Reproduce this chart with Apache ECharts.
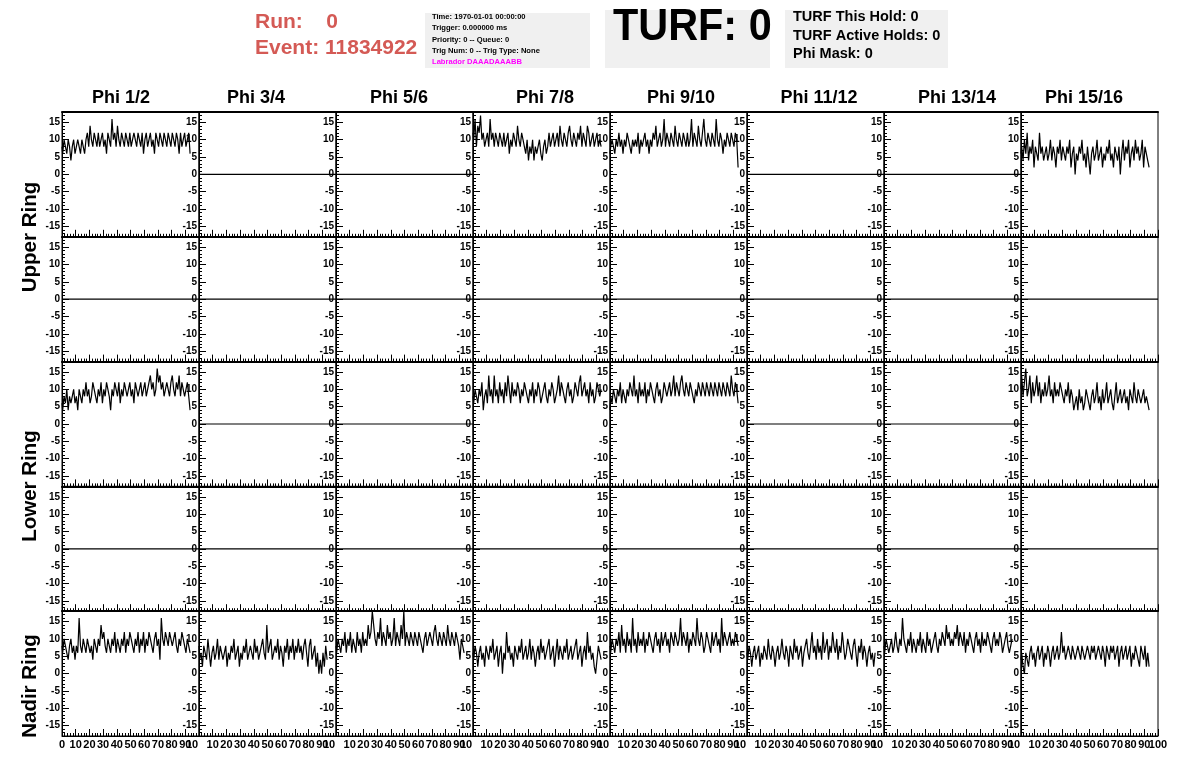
<!DOCTYPE html>
<html><head><meta charset="utf-8">
<script src="https://cdn.jsdelivr.net/npm/echarts@6/dist/echarts.min.js"></script>
<style>html,body{margin:0;padding:0;background:#fff}#c{width:1196px;height:772px}</style>
</head><body><div id="c"></div>
<script>
const colLabels = ['Phi 1/2','Phi 3/4','Phi 5/6','Phi 7/8','Phi 9/10','Phi 11/12','Phi 13/14','Phi 15/16'];
const ringLabels = ['Upper Ring','Lower Ring','Nadir Ring'];
const xTicksFirst = [0,10,20,30,40,50,60,70,80,90];
const xTicksInner = [10,20,30,40,50,60,70,80,90];
const xEndTick = [100];
const yTicks = [-15,-10,-5,0,5,10,15];
const yMinor = [-17,-16,-14,-13,-12,-11,-9,-8,-7,-6,-4,-3,-2,-1,1,2,3,4,6,7,8,9,11,12,13,14,16,17];
const runText = 'Run:    0';
const eventText = 'Event: 11834922';
const infoLines = ['Time: 1970-01-01 00:00:00','Trigger: 0.000000 ms','Priority: 0 -- Queue: 0','Trig Num: 0 -- Trig Type: None'];
const labradorText = 'Labrador DAAADAAABB';
const turfText = 'TURF: 0';
const turfLines = ['TURF This Hold: 0','TURF Active Holds: 0','Phi Mask: 0'];

// waveform samples (x = sample index 0..94)
const U1 = [8,6,10,8,6,10,8,4,8,10,6,8,10,8,6,10,8,6,10, 12,8,14,10,8,12,10,8,12,8,10,12,8,10,6,12,10,8,16, 10,12,8,14,10,8,12,10,8,12,10,8,12,8,10,12,10,8,12, 10,8,12,6,10,12,8,10,12,8,10,6,12,10,8,12,10,8,12, 10,8,12,10,8,12,10,8,12,10,6,12,8,10,12,8,10,12,6];
const U7 = [12,10,16,8,14,12,17,10,12,8,10,12,8,16,10,12,8,12,10, 8,12,10,8,12,8,10,12,6,10,8,12,10,8,14,10,8,12,10, 8,6,10,4,8,6,10,4,8,6,8,10,6,4,8,10,6,8,12, 8,10,12,8,10,12,8,14,10,8,12,10,8,12,14,10,8,12,10, 8,12,10,14,8,12,10,8,14,12,8,10,12,8,10,12,8,10,8];
const U9 = [6,8,10,8,6,10,8,12,8,10,6,10,8,12,10,8,6,10,8, 10,8,12,6,10,8,10,12,8,10,6,10,8,12,10,14,8,10,12, 8,10,16,8,12,10,8,12,10,8,14,10,8,12,10,8,12,10,8, 12,8,10,16,8,12,10,8,14,10,8,12,16,10,8,12,10,8,12, 10,8,16,10,8,12,10,6,10,8,12,10,8,12,10,8,12,10,2];
const U15 = [6,8,4,10,6,12,4,8,6,10,2,8,6,4,12,6,8,4,6, 8,4,6,10,4,8,6,2,8,6,10,4,8,6,4,8,6,10,2, 6,8,0,6,4,8,6,10,4,6,2,8,4,0,6,8,4,6,10, 4,6,8,2,6,4,8,6,10,4,6,2,8,6,4,8,0,6,10, 4,8,6,10,2,6,8,4,10,6,8,4,6,10,2,8,6,4,2];
const L1 = [6,4,8,6,10,4,8,6,8,10,6,8,4,10,8,6,10,8,12, 8,10,6,8,12,10,8,6,10,8,12,6,10,8,12,10,8,4,10, 8,12,10,8,12,6,10,8,12,10,8,10,12,8,10,6,12,10,8, 10,12,8,10,12,8,10,12,14,10,12,8,10,16,12,14,10,12,8, 10,12,10,8,12,14,10,8,12,10,14,8,12,10,8,10,12,8,4];
const L7 = [8,6,10,8,6,10,8,12,4,8,10,6,14,8,10,6,14,8,10, 6,12,8,10,6,12,8,14,10,6,12,8,10,8,12,10,6,10,8, 12,10,8,6,10,8,12,6,10,8,12,10,6,8,10,12,8,6,10, 8,12,10,6,8,10,14,8,12,10,8,6,10,12,8,10,6,8,12, 10,8,12,14,8,10,12,8,10,6,12,8,10,6,8,12,10,8,10];
const L9 = [4,8,6,10,8,6,10,8,12,6,10,8,6,10,8,12,10,8,14, 8,10,6,12,8,10,8,12,6,10,8,12,10,8,6,10,12,8,10, 6,8,12,10,8,10,12,8,10,14,8,12,10,8,12,14,10,8,12, 10,8,12,10,8,6,10,8,12,10,8,12,10,8,12,10,8,12,10, 8,12,10,8,12,10,8,12,10,8,12,10,8,14,10,8,12,10,6];
const L15 = [10,14,8,12,16,8,10,14,6,12,8,10,14,8,12,6,10,8,12, 8,10,14,8,10,6,12,8,10,8,12,10,8,6,10,8,12,6,10, 8,4,6,8,4,10,6,8,4,6,10,8,6,4,8,10,6,8,12, 6,8,4,10,6,8,12,6,8,10,6,4,8,12,6,8,10,6,8, 10,6,8,4,10,8,6,12,8,6,10,8,6,8,10,6,8,6,4];
const N1 = [8,6,10,8,6,4,8,10,6,8,4,8,6,16,8,6,10,8,6, 10,8,6,8,4,10,8,6,10,8,14,10,12,8,6,10,8,6,10, 8,12,6,10,8,6,10,8,12,6,10,8,12,10,8,6,10,8,12, 6,10,8,12,6,10,8,12,10,8,6,10,12,8,10,4,16,10,8, 12,10,8,12,10,8,10,12,8,6,10,8,12,10,8,6,10,8,6];
const N3 = [8,4,6,2,8,6,4,10,6,2,6,8,4,6,10,4,8,6,4, 6,8,2,6,4,8,6,10,4,6,8,2,6,4,8,6,10,4,6, 8,6,4,10,6,8,4,6,8,10,6,4,14,6,8,10,4,6,8, 6,10,4,8,6,2,8,6,10,4,8,6,10,4,8,6,10,6,8, 4,8,10,6,2,8,10,4,6,8,2,6,0,4,0,6,2,8,4];
const N5 = [8,6,10,8,6,10,8,12,6,10,8,12,6,10,8,6,12,8,10, 6,12,8,10,8,14,10,12,18,14,10,8,12,10,16,8,12,10,8, 14,10,12,8,10,16,8,12,10,8,14,10,18,8,12,10,8,12,10, 8,12,10,8,12,10,8,6,10,12,8,10,12,10,8,12,14,10,8, 12,10,8,12,10,8,14,10,8,12,10,8,12,10,8,4,10,8,6];
const N7 = [6,4,8,6,2,6,8,4,6,2,8,6,4,8,6,10,4,6,8, 2,6,8,0,6,4,12,6,8,4,6,2,8,6,4,8,6,10,4, 6,8,4,6,10,4,8,6,2,6,8,4,10,6,8,4,6,8,10, 4,6,8,2,6,10,4,8,6,4,8,6,10,4,6,8,4,6,8, 10,4,6,8,2,6,8,4,12,6,8,4,6,2,0,4,8,6,4];
const N9 = [8,6,10,8,6,10,8,12,6,14,8,10,6,12,8,10,6,16,8, 10,6,12,8,10,8,12,6,10,8,12,10,8,6,10,12,8,10,6, 12,8,10,12,8,10,6,12,10,8,12,10,8,10,16,8,12,10,8, 12,6,10,8,12,10,8,16,10,8,12,10,6,8,12,10,8,6,12, 8,10,12,8,10,6,16,8,12,10,8,10,12,8,10,8,12,10,8];
const N11 = [6,4,8,6,2,6,8,4,6,8,2,6,4,8,6,4,10,6,4, 8,6,2,6,8,4,6,10,6,4,8,6,2,8,6,4,10,6,8, 4,6,8,2,6,8,10,6,4,8,12,6,8,4,10,6,8,4,12, 6,8,10,4,8,6,12,8,6,10,4,8,6,12,8,4,6,10,8, 6,4,8,10,6,2,8,6,10,4,8,6,2,6,8,4,6,2,6];
const N13 = [8,6,10,8,6,8,10,6,8,12,8,6,10,8,16,10,8,6,10, 8,12,6,10,8,6,10,8,12,6,10,8,6,12,8,10,6,8,10, 12,8,6,10,8,12,10,8,14,10,12,8,10,8,12,10,14,8,12, 10,8,12,6,10,8,12,10,8,6,10,12,8,10,6,12,8,10,8, 12,10,8,6,10,12,8,10,8,12,10,6,8,10,12,8,6,8,10];
const N15 = [4,6,2,0,6,4,2,6,8,4,6,2,6,8,4,6,8,2,6, 4,8,6,2,6,8,4,6,8,4,6,12,6,8,4,6,8,6,4, 8,6,4,6,8,6,4,8,6,4,6,8,6,4,8,6,8,4,6, 8,6,4,8,6,2,8,6,4,8,6,8,4,6,8,2,6,8,4, 6,8,4,6,8,2,6,4,8,6,4,2,8,6,4,8,2,6,2];
const ZERO = [0,0];

// panel contents: rows (Upper x2, Lower x2, Nadir), 8 columns each
const panelRows = [
  [U1, ZERO, ZERO, U7, U9, ZERO, ZERO, U15],
  [ZERO, ZERO, ZERO, ZERO, ZERO, ZERO, ZERO, ZERO],
  [L1, ZERO, ZERO, L7, L9, ZERO, ZERO, L15],
  [ZERO, ZERO, ZERO, ZERO, ZERO, ZERO, ZERO, ZERO],
  [N1, N3, N5, N7, N9, N11, N13, N15]
];

const FONT = '"Liberation Sans", Arial, Helvetica, sans-serif';
const gx0 = 62, gw = 137, gy0 = 112, gh = 124.8;
const nCols = 8;
const grids = [], xAxes = [], yAxes = [], series = [];
panelRows.forEach((row, r) => {
  row.forEach((vals, c) => {
    const k = grids.length;
    grids.push({left: gx0 + gw*c, top: gy0 + gh*r, width: gw, height: gh,
      show: true, borderColor: '#000', borderWidth: 1, backgroundColor: 'rgba(0,0,0,0)'});
    const isBottom = r === panelRows.length - 1;
    const isLast = c === nCols - 1;
    const lblBase = {color: '#000', fontFamily: FONT, fontWeight: 'bold', fontSize: 11, margin: 3};
    xAxes.push({gridIndex: k, type: 'value', min: 0, max: 100, interval: 10, position: 'bottom',
      axisLine: {show: true, onZero: false, lineStyle: {color: '#000', width: 1}},
      axisTick: {show: true, inside: true, length: 7, lineStyle: {color: '#000'}},
      minorTick: {show: true, splitNumber: 5, length: 3, lineStyle: {color: '#000'}},
      splitLine: {show: false},
      axisLabel: Object.assign({show: isBottom, customValues: c === 0 ? xTicksFirst : xTicksInner,
        showMinLabel: true, showMaxLabel: true}, lblBase)});
    xAxes.push({gridIndex: k, type: 'value', min: 0, max: 100, position: 'top',
      axisLine: {show: true, onZero: false, lineStyle: {color: '#000', width: 2}},
      axisTick: {show: false}, axisLabel: {show: false}, splitLine: {show: false}});
    xAxes.push({gridIndex: k, type: 'value', min: 0, max: 100, position: 'bottom',
      axisLine: {show: false, onZero: false}, axisTick: {show: false}, splitLine: {show: false},
      axisLabel: Object.assign({show: isBottom, customValues: xEndTick,
        formatter: v => isLast ? String(v) : '{c|' + String(v).slice(0, 2) + '}',
        rich: {c: {fontFamily: FONT, fontWeight: 'bold', fontSize: 11, color: '#000', padding: [0, 14, 0, 0]}}}, lblBase)});
    yAxes.push({gridIndex: k, type: 'value', min: -18, max: 18, position: 'left',
      axisLine: {show: true, onZero: false, lineStyle: {color: '#000', width: 1}},
      axisTick: {show: true, inside: true, length: 7, customValues: yTicks, lineStyle: {color: '#000'}},
      axisLabel: {show: true, customValues: yTicks, color: '#000', fontFamily: FONT, fontWeight: 'bold', fontSize: 10, margin: 2},
      splitLine: {show: false}});
    yAxes.push({gridIndex: k, type: 'value', min: -18, max: 18, position: 'left',
      axisLine: {show: false, onZero: false},
      axisTick: {show: true, inside: true, length: 3, customValues: yMinor, lineStyle: {color: '#000'}},
      axisLabel: {show: false}, splitLine: {show: false}});
    const pts = vals === ZERO ? [[0, 0], [100, 0]] : vals.map((v, i) => [i, v]);
    series.push({type: 'line', xAxisIndex: 3*k, yAxisIndex: 2*k, data: pts, showSymbol: false, symbol: 'none',
      step: vals === ZERO ? false : 'middle',
      lineStyle: {color: '#000', width: 1.2}, silent: true, animation: false, clip: true});
  });
});

const colCenters = [121, 256, 399, 545, 681, 819, 957, 1084];
const ringCenters = [237, 486, 686];
const graphics = [];
colLabels.forEach((t, i) => graphics.push({type: 'text', x: colCenters[i], y: 98,
  style: {text: t, fill: '#000', font: 'bold 18px ' + FONT, textAlign: 'center', textVerticalAlign: 'middle'}}));
ringLabels.forEach((t, i) => graphics.push({type: 'text', x: 30, y: ringCenters[i], rotation: Math.PI/2,
  style: {text: t, fill: '#000', font: 'bold 20.5px ' + FONT, textAlign: 'center', textVerticalAlign: 'middle'}}));
const red = '#d45a55';
graphics.push({type: 'text', x: 255, y: 22, style: {text: runText, fill: red, font: 'bold 21px ' + FONT, textVerticalAlign: 'middle'}});
graphics.push({type: 'text', x: 255, y: 48, style: {text: eventText, fill: red, font: 'bold 21px ' + FONT, textVerticalAlign: 'middle'}});
graphics.push({type: 'rect', shape: {x: 425, y: 13, width: 165, height: 55}, style: {fill: '#f0f0f0'}});
infoLines.forEach((t, i) => graphics.push({type: 'text', x: 432, y: 17 + i*11.3,
  style: {text: t, fill: '#000', font: 'bold 7.6px ' + FONT, textVerticalAlign: 'middle'}}));
graphics.push({type: 'text', x: 432, y: 62, style: {text: labradorText, fill: '#ff00ff', font: 'bold 7.6px ' + FONT, textVerticalAlign: 'middle'}});
graphics.push({type: 'rect', shape: {x: 605, y: 10, width: 165, height: 58}, style: {fill: '#f0f0f0'}});
graphics.push({type: 'text', x: 613, y: 28, scaleX: 0.92, style: {text: turfText, fill: '#000', font: 'bold 45px ' + FONT, textVerticalAlign: 'middle'}});
graphics.push({type: 'rect', shape: {x: 785, y: 10, width: 163, height: 58}, style: {fill: '#f0f0f0'}});
turfLines.forEach((t, i) => graphics.push({type: 'text', x: 793, y: 17 + i*18.5,
  style: {text: t, fill: '#000', font: 'bold 14.5px ' + FONT, textVerticalAlign: 'middle'}}));

const chart = echarts.init(document.getElementById('c'), null, {renderer: 'canvas'});
chart.setOption({animation: false, backgroundColor: '#fff', grid: grids, xAxis: xAxes, yAxis: yAxes, series: series, graphic: graphics});
</script></body></html>
